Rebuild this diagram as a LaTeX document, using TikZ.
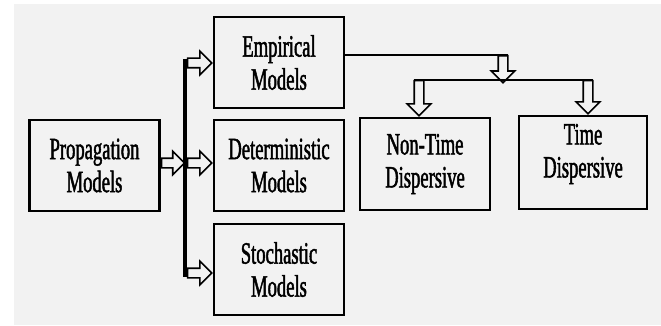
\documentclass[tikz,border=0pt]{standalone}
\usepackage{fontspec}
\newfontfamily\boxfont[FakeStretch=0.6,FakeBold=1.5]{Liberation Serif}
\usetikzlibrary{shapes.arrows}
\definecolor{panelgray}{rgb}{0.95,0.95,0.95}

\begin{document}
\begin{tikzpicture}[x=1pt,y=-1pt,
        modelbox/.style={draw, line width=2.4pt, minimum width=130pt, minimum height=91pt, inner sep=0pt, align=center, font={\boxfont\fontsize{31pt}{33pt}\selectfont}},
        boxtext/.style={align=center, inner sep=0pt, font={\boxfont\fontsize{31pt}{33pt}\selectfont}},
        blockarrow/.style={single arrow, draw, fill=panelgray, line width=1.6pt, inner xsep=0pt, inner ysep=4pt, single arrow head extend=7pt},
        link/.style={line width=2pt}
    ]
        \useasboundingbox (0,0) rectangle (661,326);
        \fill[panelgray] (14,4) rectangle (661,325);
        % Boxes
        \node[modelbox] (prop) at (94.5,165.5) {Propagation\\Models};
        \node[modelbox] (emp) at (279,62.5) {Empirical\\Models};
        \node[modelbox] (det) at (279,165.5) {Deterministic\\Models};
        \node[modelbox] (sto) at (279,269.5) {Stochastic\\Models};
        \node[modelbox, minimum height=92pt] (nontime) at (425,164) {Non-Time\\Dispersive};
        \node[modelbox, minimum width=128pt, minimum height=93pt] (time) at (583,162.5) {};
        \node[boxtext] (timetext) at (583,154) {Time\\Dispersive};
        % Arrows into the model boxes
        \node[blockarrow, anchor=tail, minimum height=23pt] (aprop) at ([yshift=2.5pt]prop.east) {};
        \node[blockarrow, anchor=tip, minimum height=24pt] (aemp) at ([yshift=-0.5pt]emp.west) {};
        \node[blockarrow, anchor=tip, minimum height=24pt] (adet) at ([yshift=2.5pt]det.west) {};
        \node[blockarrow, anchor=tip, minimum height=24pt] (asto) at ([yshift=-3.5pt]sto.west) {};
        \draw[line width=4.5pt] ([shift={(-2pt,4pt)}]aemp.tail) -- ([shift={(-2pt,-4pt)}]asto.tail);
        % Split of the empirical models
        \node[blockarrow, rotate=-90, anchor=tail, minimum height=27pt] (asplit) at (503,55) {};
        \draw[link] (emp.east |- asplit.tail) -- ([xshift=5pt]asplit.tail);
        \node[blockarrow, rotate=-90, anchor=tip, minimum height=35pt] (anontime) at ([xshift=-6pt]nontime.north) {};
        \node[blockarrow, rotate=-90, anchor=tip, minimum height=33pt] (atime) at ([xshift=5pt]time.north) {};
        \draw[link] ([xshift=-5pt]anontime.tail) -- ([xshift=5pt]atime.tail);
\end{tikzpicture}
\end{document}
